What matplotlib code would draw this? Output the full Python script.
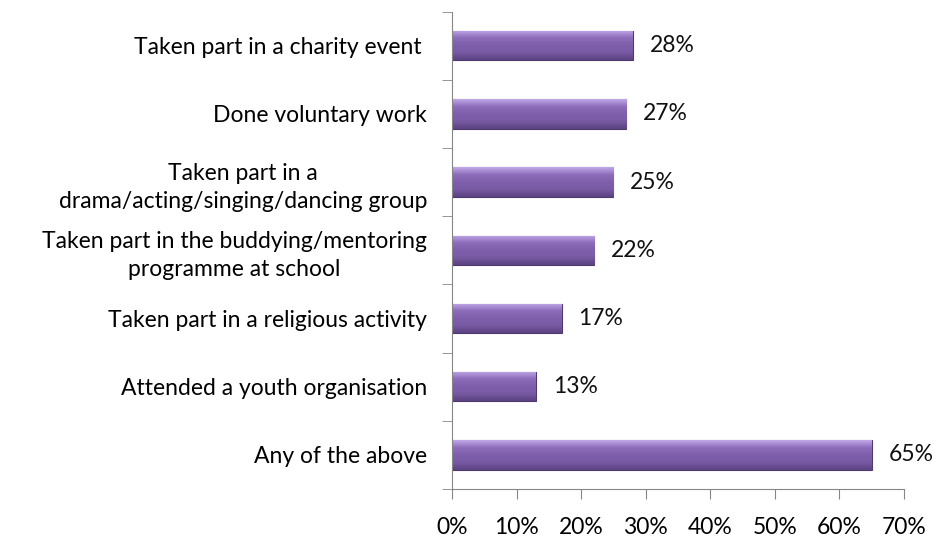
import matplotlib
matplotlib.use("Agg")
import matplotlib.pyplot as plt
import numpy as np
from matplotlib.colors import LinearSegmentedColormap

categories = [
    "Any of the above",
    "Attended a youth organisation",
    "Taken part in a religious activity",
    "Taken part in the buddying/mentoring\nprogramme at school",
    "Taken part in a\ndrama/acting/singing/dancing group",
    "Done voluntary work",
    "Taken part in a charity event ",
]
values = [65, 13, 17, 22, 25, 27, 28]
xticks = [0, 10, 20, 30, 40, 50, 60, 70]

plt.rcParams["font.family"] = ["Lato", "DejaVu Sans"]
fs = 16.5

fig = plt.figure(figsize=(9.32, 5.37), dpi=100)
ax = fig.add_axes([0.485, 0.0894, 0.485, 0.889])

y = np.arange(len(categories))
bars = ax.barh(y, values, height=0.43, color="#7b5aa6", edgecolor="#4f3a70", linewidth=0.8, zorder=2)

# vertical shading on each bar
cmap = LinearSegmentedColormap.from_list("bev", ["#5b4282", "#785aa4", "#7f5fac", "#8d6cba", "#c0a8e8"])
grad = np.linspace(0, 1, 64).reshape(-1, 1)
for b in bars:
    x0, y0 = b.get_x(), b.get_y()
    im = ax.imshow(grad, cmap=cmap, aspect="auto", origin="lower",
                   extent=[x0, x0 + b.get_width(), y0, y0 + b.get_height()], zorder=2.5)
    im.set_clip_path(b)

for b, v in zip(bars, values):
    ax.annotate(f"{v}%", (b.get_width(), b.get_y() + b.get_height() / 2),
                xytext=(12, 0), textcoords="offset points", va="center", ha="left",
                fontsize=fs, color="#111111")

ax.set_xlim(0, 70)
ax.set_ylim(-0.5, len(categories) - 0.5)
ax.set_xticks(xticks)
ax.set_xticklabels([f"{t}%" for t in xticks], fontsize=fs)
ax.set_yticks(y)
ax.set_yticklabels(categories, fontsize=fs, ha="right", multialignment="center", linespacing=1.4)
ax.set_yticks(np.arange(len(categories) + 1) - 0.5, minor=True)

ax.tick_params(axis="y", which="major", length=0, pad=18)
ax.tick_params(axis="y", which="minor", length=7, color="#868686", direction="out")
ax.tick_params(axis="x", length=7, color="#868686", direction="out", pad=13)

for s in ["top", "right"]:
    ax.spines[s].set_visible(False)
for s in ["left", "bottom"]:
    ax.spines[s].set_color("#868686")

fig.savefig("out.png", dpi=100)
